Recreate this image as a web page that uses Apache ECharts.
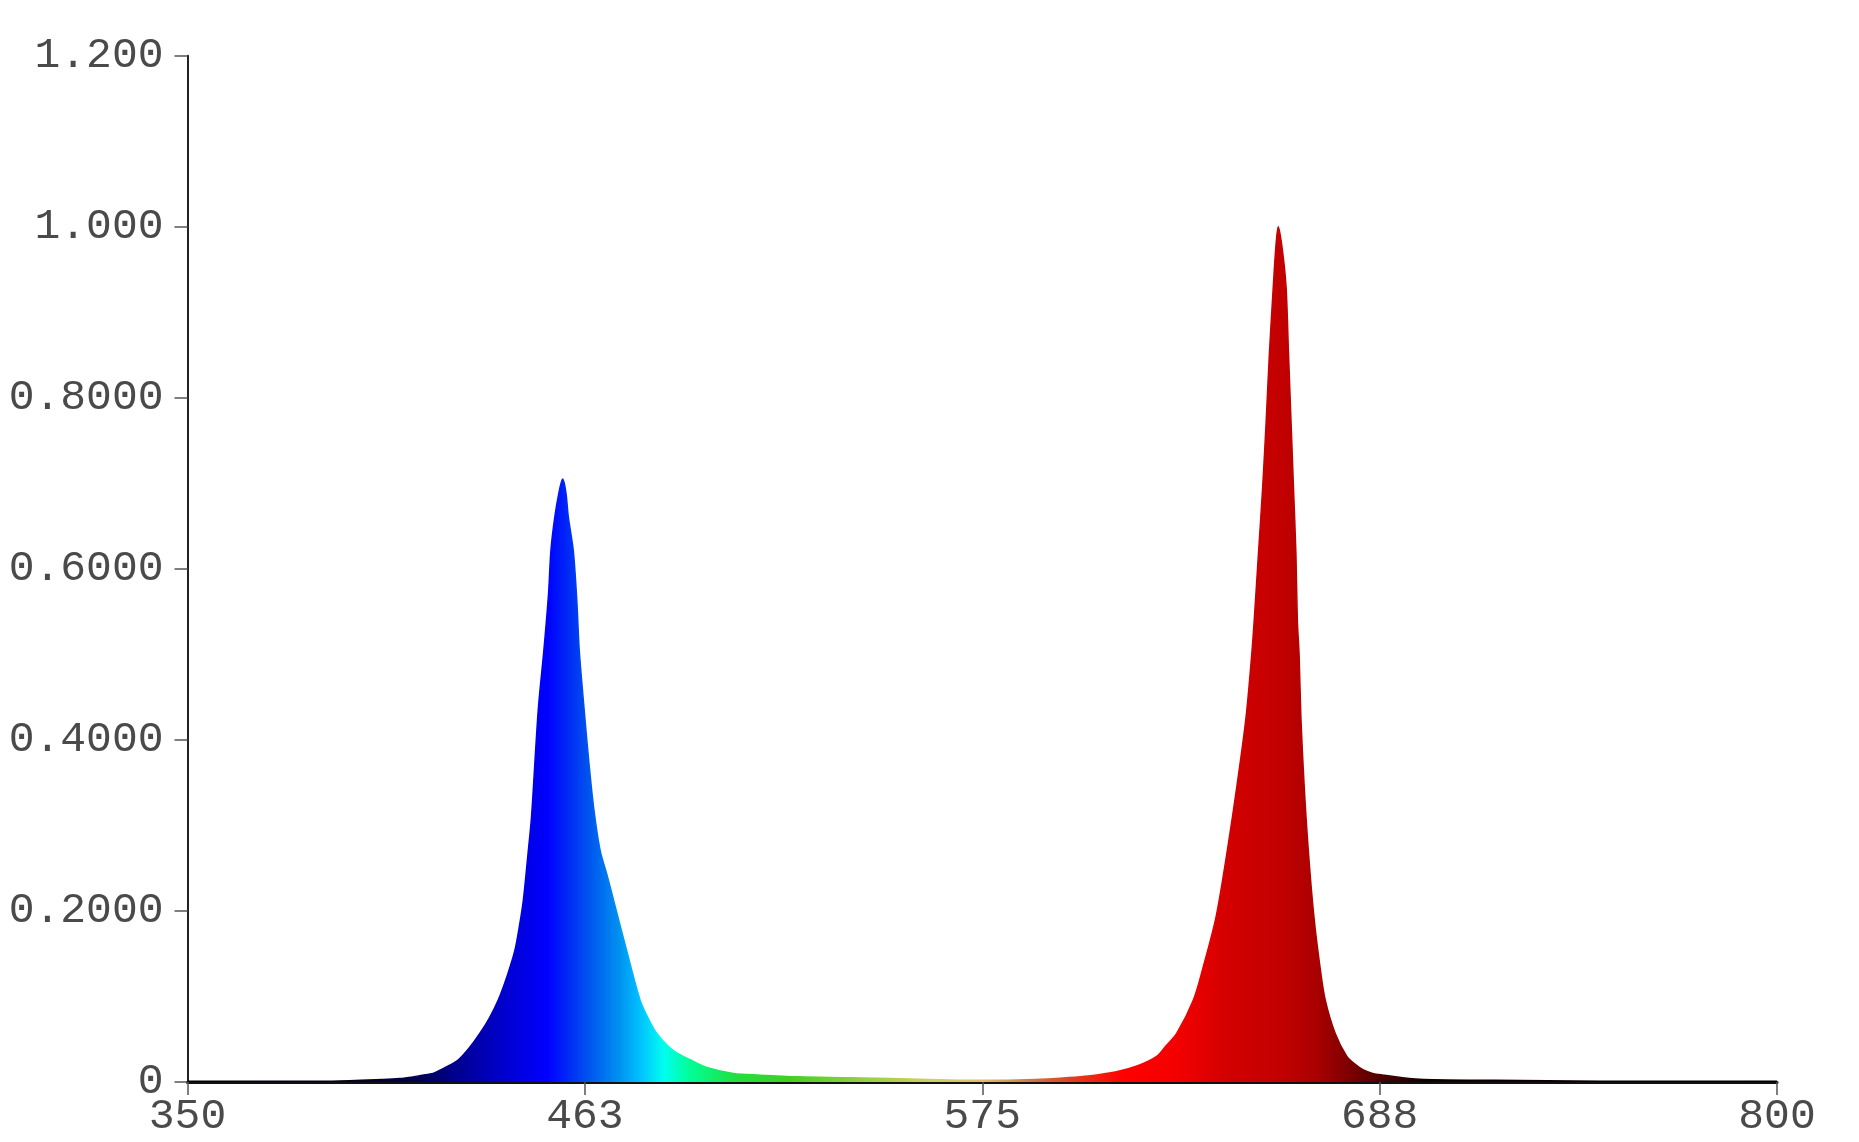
<!DOCTYPE html>
<html>
<head>
<meta charset="utf-8">
<script src="https://cdn.jsdelivr.net/npm/echarts@6/dist/echarts.min.js"></script>
<style>
html,body{margin:0;padding:0;background:#ffffff;}
#chart{width:1859px;height:1142px;}
</style>
</head>
<body>
<div id="chart"></div>
<script>
// Wavelength (nm) and relative intensity
const wavelengths = [350, 370, 390, 405, 410, 413.9, 416.5, 419.5, 423, 426.7, 429.8, 432.8, 435.5, 438.0, 440.5, 442.7, 444.0, 445.1, 446.5, 447.4, 449.3, 450.9, 452.2, 452.9, 454.0, 455.2, 456.2, 457.1, 457.8, 459.2, 460.2, 460.9, 462.3, 463.6, 465.0, 466.8, 468.7, 470.6, 474.3, 478.1, 480.5, 482.8, 486, 488.5, 492.3, 497, 504.5, 512, 523, 537.6, 560, 575, 590, 598.9, 605, 613, 619, 624.4, 627, 630.1, 634.8, 637.6, 641.2, 644.4, 647.2, 649.7, 651.3, 652.0, 653.2, 654.4, 655.4, 656.3, 657.4, 658.1, 658.8, 659.9, 661.0, 661.7, 662.4, 663.1, 663.8, 664.2, 664.7, 665.2, 666.1, 667.3, 668.9, 670.6, 672.1, 674.9, 678.2, 680.5, 682.9, 685.5, 688.5, 694, 700, 720, 750, 780, 800];
const intensity = [0.001, 0.001, 0.001, 0.003, 0.004, 0.006, 0.008, 0.010, 0.017, 0.026, 0.040, 0.057, 0.075, 0.096, 0.124, 0.154, 0.183, 0.213, 0.271, 0.31, 0.435, 0.505, 0.57, 0.622, 0.661, 0.690, 0.705, 0.690, 0.661, 0.622, 0.564, 0.505, 0.435, 0.375, 0.32, 0.271, 0.243, 0.213, 0.154, 0.096, 0.074, 0.057, 0.042, 0.034, 0.026, 0.017, 0.010, 0.008, 0.006, 0.005, 0.003, 0.002, 0.003, 0.005, 0.007, 0.012, 0.019, 0.030, 0.042, 0.057, 0.096, 0.135, 0.193, 0.271, 0.349, 0.427, 0.50, 0.540, 0.618, 0.696, 0.774, 0.852, 0.930, 0.975, 1.0, 0.975, 0.930, 0.852, 0.774, 0.696, 0.618, 0.540, 0.50, 0.427, 0.349, 0.271, 0.193, 0.135, 0.096, 0.057, 0.030, 0.021, 0.014, 0.010, 0.008, 0.005, 0.003, 0.002, 0.001, 0.001, 0.001];

// Axis settings / tick labels
const xMin = 350, xMax = 800, xStep = 112.5;
const yMin = 0, yMax = 1.2, yStep = 0.2;

// Spectrum colour along wavelength
const spectrumNm = [350, 400, 415, 425, 440, 452, 463, 472, 478, 485, 492, 505, 520, 540, 560, 575, 590, 600, 615, 630, 645, 660, 670, 680, 690, 700, 800];
const spectrumColor = ['#000000', '#06001c', '#000050', '#00008a', '#0000d0', '#0000ff', '#0050ee', '#0090f0', '#00c0ff', '#00ffee', '#00ff99', '#20e040', '#40d020', '#90d040', '#d0d060', '#e0c060', '#d07040', '#e04020', '#ff0000', '#f40000', '#d20000', '#c20000', '#a80000', '#780000', '#400000', '#100000', '#000000'];

function makeGradient() {
  return new echarts.graphic.LinearGradient(0, 0, 1, 0,
    spectrumNm.map((w, i) => ({ offset: (w - xMin) / (xMax - xMin), color: spectrumColor[i] })));
}

const seriesData = wavelengths.map((w, i) => [w, intensity[i]]);

const chart = echarts.init(document.getElementById('chart'), null, { renderer: 'canvas' });
const labelFont = { fontFamily: '"Liberation Mono", monospace', fontSize: 43, color: '#4a4a4a' };

chart.setOption({
  backgroundColor: '#ffffff',
  animation: false,
  grid: { left: 187.5, right: 82, top: 55.7, bottom: 60, containLabel: false, outerBoundsMode: 'none' },
  xAxis: {
    type: 'value', min: xMin, max: xMax, interval: xStep,
    axisLine: { show: true, onZero: false, lineStyle: { color: '#111111', width: 3 } },
    axisTick: { show: true, length: 13, lineStyle: { color: '#555555', width: 1.5 } },
    splitLine: { show: false },
    axisLabel: Object.assign({ margin: 13, formatter: v => String(Math.round(v)) }, labelFont)
  },
  yAxis: {
    type: 'value', min: yMin, max: yMax, interval: yStep,
    axisLine: { show: true, lineStyle: { color: '#222222', width: 2 } },
    axisTick: { show: true, length: 13, lineStyle: { color: '#555555', width: 1.5 } },
    splitLine: { show: false },
    axisLabel: Object.assign({ margin: 24, formatter: v => {
      if (Math.abs(v) < 1e-9) return '0';
      return v >= 1 ? v.toFixed(3) : v.toFixed(4);
    } }, labelFont)
  },
  series: [{
    type: 'line',
    data: seriesData,
    showSymbol: false,
    smooth: 0.3,
    lineStyle: { width: 1.5, color: makeGradient() },
    areaStyle: { color: makeGradient(), opacity: 1 },
    z: 3
  }]
});
</script>
</body>
</html>
